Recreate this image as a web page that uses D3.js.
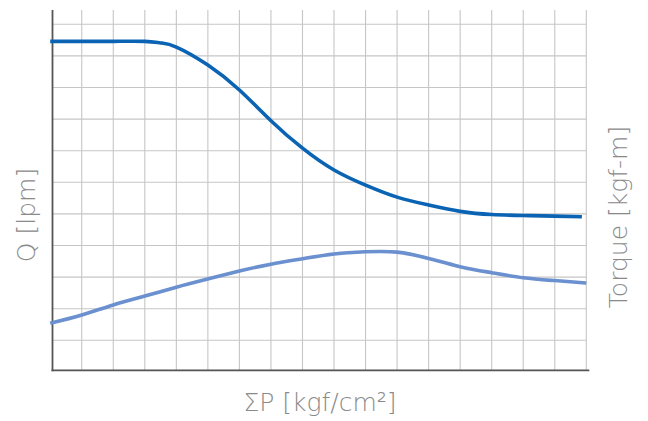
<!DOCTYPE html>
<html>
<head>
<meta charset="utf-8">
<script src="https://cdn.jsdelivr.net/npm/d3@7"></script>
<style>
body{margin:0;background:#fff;}
svg{display:block;}
.lbl{font-family:"DejaVu Sans",sans-serif;font-weight:200;fill:#8a8a8a;font-size:25px;}
</style>
</head>
<body>
<svg id="c" width="648" height="421"></svg>
<script>
// Data in grid units (no numeric ticks on the original)
const pressure = [0, 1, 2, 3, 3.5, 4, 5, 6, 7, 8, 9, 10, 11, 12, 13, 14, 15, 16, 16.86];
const flowQ    = [10.46, 10.46, 10.46, 10.46, 10.41, 10.28, 9.71, 8.92, 7.95, 7.08, 6.39, 5.91, 5.53, 5.28, 5.08, 4.98, 4.95, 4.93, 4.91];
const torqueP  = [0, 1, 2, 3, 4, 5, 6, 7, 8, 9, 10, 11, 12, 13, 14, 15, 16, 17];
const torque   = [1.54, 1.80, 2.12, 2.40, 2.68, 2.94, 3.19, 3.41, 3.58, 3.73, 3.80, 3.79, 3.59, 3.33, 3.14, 2.98, 2.89, 2.81];
const xGrid = d3.range(1, 18);
const yGrid = d3.range(1, 12);
const xTitle = "ΣP [kgf/cm²]";
const yTitle = "Q [lpm]";
const y2Title = "Torque [kgf-m]";

const svg = d3.select("#c");
const x = d3.scaleLinear().domain([0, 17]).range([50.2, 586.3]);
const y = d3.scaleLinear().domain([0, 11]).range([371.9, 24.3]);
const axisX = 52.5, axisY = 370.3, topY = 10, rightX = 586.3;

// grid
svg.append("g").selectAll("line").data(xGrid).join("line")
  .attr("x1", d => x(d)).attr("x2", d => x(d))
  .attr("y1", topY).attr("y2", axisY)
  .attr("stroke", "#c6c6c6").attr("stroke-width", 1.1);
svg.append("g").selectAll("line").data(yGrid).join("line")
  .attr("x1", axisX).attr("x2", rightX)
  .attr("y1", d => y(d)).attr("y2", d => y(d))
  .attr("stroke", "#c6c6c6").attr("stroke-width", 1.1);

// axes
svg.append("line").attr("x1", axisX).attr("x2", axisX).attr("y1", topY).attr("y2", axisY+1)
  .attr("stroke", "#555").attr("stroke-width", 1.8);
svg.append("line").attr("x1", axisX-1).attr("x2", rightX+3).attr("y1", axisY).attr("y2", axisY)
  .attr("stroke", "#555").attr("stroke-width", 1.8);

// curves
const lineQ = d3.line().x((d,i) => x(pressure[i])).y(d => y(d)).curve(d3.curveNatural);
const lineT = d3.line().x((d,i) => x(torqueP[i])).y(d => y(d)).curve(d3.curveNatural);
svg.append("path").attr("d", lineT(torque)).attr("fill", "none")
  .attr("stroke", "#6a90cf").attr("stroke-width", 3.6);
svg.append("path").attr("d", lineQ(flowQ)).attr("fill", "none")
  .attr("stroke", "#0a63b3").attr("stroke-width", 3.6);

// titles
svg.append("text").attr("class", "lbl").attr("x", 320).attr("y", 411)
  .attr("text-anchor", "middle").text(xTitle);
svg.append("text").attr("class", "lbl").attr("transform", "translate(35,215) rotate(-90)")
  .attr("text-anchor", "middle").text(yTitle);
svg.append("text").attr("class", "lbl").attr("transform", "translate(627,217) rotate(-90)")
  .attr("text-anchor", "middle").text(y2Title);
</script>
</body>
</html>
